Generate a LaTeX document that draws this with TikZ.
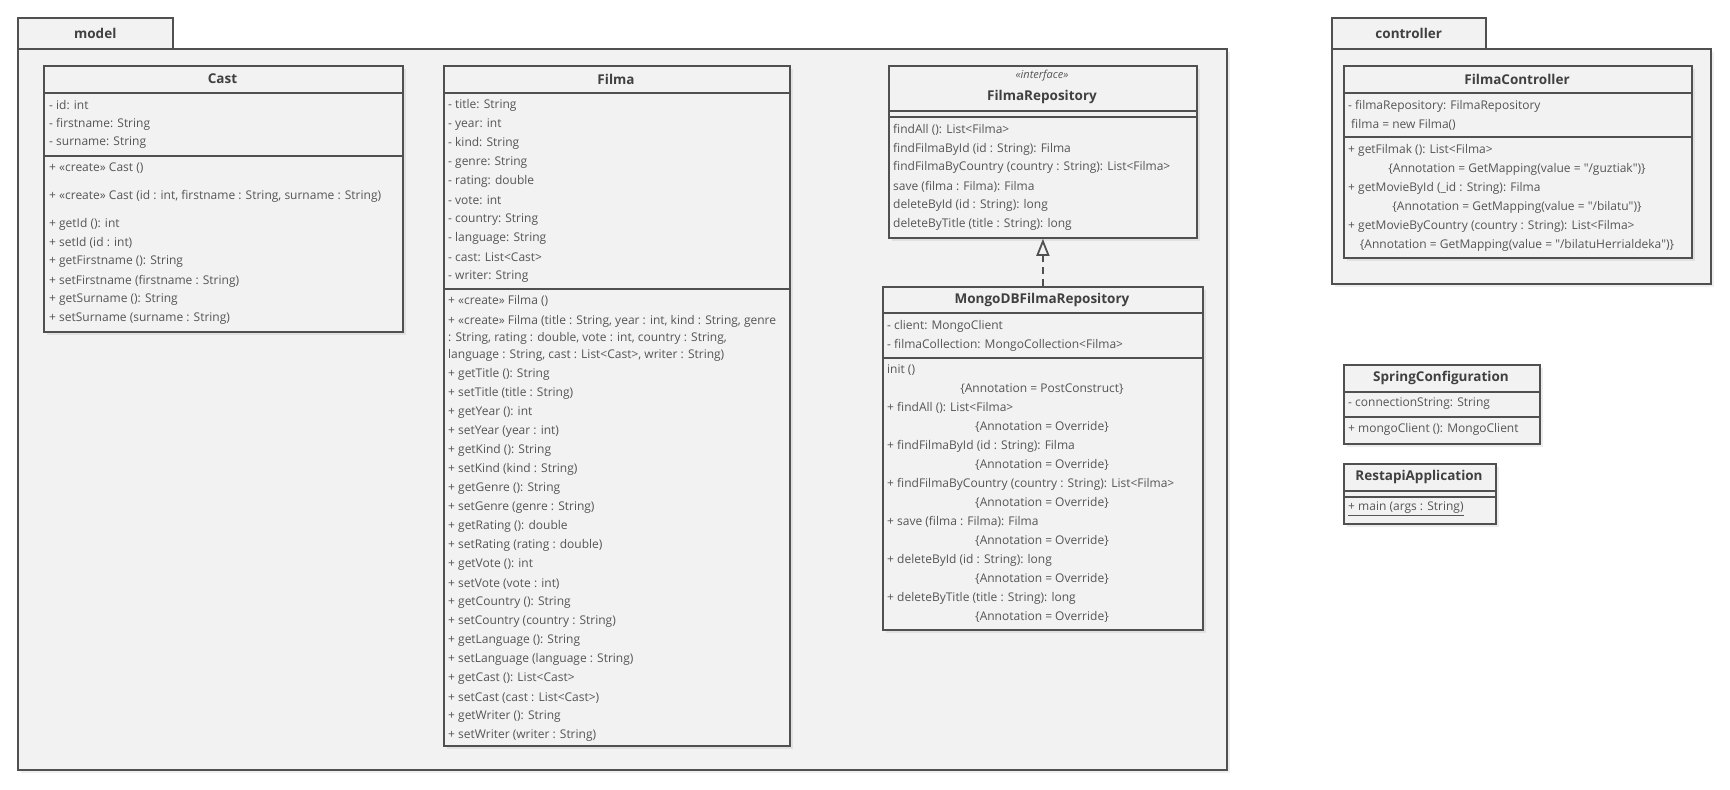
\documentclass[tikz,border=0pt]{standalone}
\usepackage{fontspec}
\setmainfont{Open Sans}[Ligatures=TeXOff]
\usepackage{tikz}
\usetikzlibrary{arrows.meta,positioning,shadows}
\definecolor{umlline}{RGB}{80,80,80}
\definecolor{umlfill}{RGB}{242,242,242}
\definecolor{umltext}{RGB}{85,85,85}
\definecolor{umltitle}{RGB}{64,64,64}

\begin{document}
\begin{tikzpicture}[x=1pt, y=-1pt, >=Triangle,
  pkgtab/.style={draw=umlline, fill=umlfill, line width=1.5pt, anchor=north west,
    inner sep=0pt, text=umltitle, font=\bfseries\fontsize{13.5}{15}\selectfont},
  pkgbody/.style={draw=umlline, fill=umlfill, line width=1.5pt, anchor=north west, inner sep=0pt,
    drop shadow={opacity=0.12, shadow xshift=3pt, shadow yshift=-3pt}},
  classbox/.style={draw=umlline, fill=umlfill, line width=1.8pt, anchor=north west, inner sep=0pt,
    drop shadow={opacity=0.15, shadow xshift=3pt, shadow yshift=-3pt}},
  classname/.style={text=umltitle, inner sep=0pt, font=\bfseries\fontsize{13.5}{15}\selectfont},
  member/.style={anchor=west, inner sep=0pt, text=umltext, font=\fontsize{12}{14}\selectfont},
  note/.style={inner sep=0pt, text=umltext, font=\fontsize{12}{14}\selectfont},
  sep/.style={draw=umlline, line width=1.5pt},
  realize/.style={draw=umlline, line width=1.8pt, dash pattern=on 7pt off 5pt,
    -{Triangle[open, length=17pt, width=13pt, line width=1.8pt]}}]
  \useasboundingbox[fill=white] (0,0) rectangle (1730,790);

  % packages
  \node[pkgbody, minimum width=1209, minimum height=721] (model) at (17,48) {};
  \node[pkgtab, minimum width=155, minimum height=31] (modeltab) at (17,17) {model};
  \node[pkgbody, minimum width=379, minimum height=235] (controller) at (1331,48) {};
  \node[pkgtab, minimum width=154, minimum height=31] (controllertab) at (1331,17) {controller};

  % Cast
  \node[classbox, minimum width=359, minimum height=266] (cast) at (43,65) {};
  \node[classname] (castname) at (222.5,79) {Cast};
  \draw[sep] (43,93) -- (402,93);
  \draw[sep] (43,156) -- (402,156);
  \foreach \t [count=\i from 0] in {- id: int, - firstname: String, - surname: String}
    \node[member] (castattr\i) at (49,{105+19*\i}) {\t};
  \foreach \y/\t [count=\i] in {168/{+ «create» Cast ()},
      196/{+ «create» Cast (id : int, firstname : String, surname : String)},
      224/{+ getId (): int}, 243/{+ setId (id : int)},
      262/{+ getFirstname (): String}, 281/{+ setFirstname (firstname : String)},
      300/{+ getSurname (): String}, 319/{+ setSurname (surname : String)}}
    \node[member] (castop\i) at (49,\y) {\t};

  % Filma
  \node[classbox, minimum width=346, minimum height=680] (filma) at (443,65) {};
  \node[classname] (filmaname) at (616,79) {Filma};
  \draw[sep] (443,93) -- (789,93);
  \draw[sep] (443,289) -- (789,289);
  \foreach \t [count=\i from 0] in {- title: String, - year: int, - kind: String, - genre: String,
      - rating: double, - vote: int, - country: String, - language: String,
      - cast: List<Cast>, - writer: String}
    \node[member] (filmaattr\i) at (448,{105+19.05*\i}) {\t};
  \node[member] (filmaop0) at (448,301) {+ «create» Filma ()};
  \foreach \y/\t [count=\i] in {321/{+ «create» Filma (title : String, year : int, kind : String, genre},
      338/{: String, rating : double, vote : int, country : String,},
      355/{language : String, cast : List<Cast>, writer : String)}}
    \node[member] (filmanew\i) at (448,\y) {\t};
  \foreach \t [count=\i from 0] in {+ getTitle (): String, + setTitle (title : String),
      + getYear (): int, + setYear (year : int), + getKind (): String, + setKind (kind : String),
      + getGenre (): String, + setGenre (genre : String), + getRating (): double,
      + setRating (rating : double), + getVote (): int, + setVote (vote : int),
      + getCountry (): String, + setCountry (country : String), + getLanguage (): String,
      + setLanguage (language : String), + getCast (): List<Cast>,
      + setCast (cast : List<Cast>), + getWriter (): String, + setWriter (writer : String)}
    \node[member] (filmaget\i) at (448,{374+19.05*\i}) {\t};

  % FilmaRepository
  \node[classbox, minimum width=308, minimum height=172] (repo) at (888,65) {};
  \node[note, font=\itshape\fontsize{11}{13}\selectfont] (repostereo) at (1042,76) {«interface»};
  \node[classname] (reponame) at (1042,97) {FilmaRepository};
  \draw[sep] (888,111) -- (1196,111);
  \draw[sep] (888,117) -- (1196,117);
  \foreach \t [count=\i from 0] in {findAll (): List<Filma>, findFilmaById (id : String): Filma,
      findFilmaByCountry (country : String): List<Filma>, save (filma : Filma): Filma,
      deleteById (id : String): long, deleteByTitle (title : String): long}
    \node[member] (repoop\i) at (893,{130+18.85*\i}) {\t};

  % MongoDBFilmaRepository
  \node[classbox, minimum width=320, minimum height=343] (mongo) at (882,286) {};
  \node[classname] (mongoname) at (1042,300) {MongoDBFilmaRepository};
  \draw[sep] (882,313) -- (1202,313);
  \draw[sep] (882,358) -- (1202,358);
  \node[member] (mongoattr0) at (887,326) {- client: MongoClient};
  \node[member] (mongoattr1) at (887,345) {- filmaCollection: MongoCollection<Filma>};
  \foreach \t/\a [count=\i from 0] in {init ()/PostConstruct, + findAll (): List<Filma>/Override,
      + findFilmaById (id : String): Filma/Override,
      + findFilmaByCountry (country : String): List<Filma>/Override,
      + save (filma : Filma): Filma/Override, + deleteById (id : String): long/Override,
      + deleteByTitle (title : String): long/Override}
  {
    \node[member] (mongoop\i) at (887,{370+38*\i}) {\t};
    \node[note] (mongoann\i) at (1042,{389+38*\i}) {\{Annotation = \a\}};
  }

  % realization
  \draw[realize] (mongo) -- (repo);

  % FilmaController
  \node[classbox, minimum width=348, minimum height=192] (ctrl) at (1343,65) {};
  \node[classname] (ctrlname) at (1517,79) {FilmaController};
  \draw[sep] (1343,93) -- (1691,93);
  \draw[sep] (1343,137) -- (1691,137);
  \node[member] (ctrlattr0) at (1348,106) {- filmaRepository: FilmaRepository};
  \node[member] (ctrlattr1) at (1351,125) {filma = new Filma()};
  \foreach \t/\a [count=\i from 0] in {+ getFilmak (): List<Filma>/guztiak,
      + getMovieById (\_id : String): Filma/bilatu,
      + getMovieByCountry (country : String): List<Filma>/bilatuHerrialdeka}
  {
    \node[member] (ctrlop\i) at (1348,{150+38*\i}) {\t};
    \node[note] (ctrlann\i) at (1517,{169+38*\i}) {\{Annotation = GetMapping(value = "/\a")\}};
  }

  % SpringConfiguration
  \node[classbox, minimum width=196, minimum height=79] (spring) at (1343,364) {};
  \node[classname] (springname) at (1441,378) {SpringConfiguration};
  \draw[sep] (1343,392) -- (1539,392);
  \draw[sep] (1343,417) -- (1539,417);
  \node[member] (springattr) at (1348,404) {- connectionString: String};
  \node[member] (springop) at (1348,429) {+ mongoClient (): MongoClient};

  % RestapiApplication
  \node[classbox, minimum width=152, minimum height=60] (app) at (1343,463) {};
  \node[classname] (appname) at (1419,477) {RestapiApplication};
  \draw[sep] (1343,491) -- (1495,491);
  \draw[sep] (1343,497) -- (1495,497);
  \node[member] (appop) at (1348,509) {\underline{+ main (args : String)}};
\end{tikzpicture}
\end{document}
